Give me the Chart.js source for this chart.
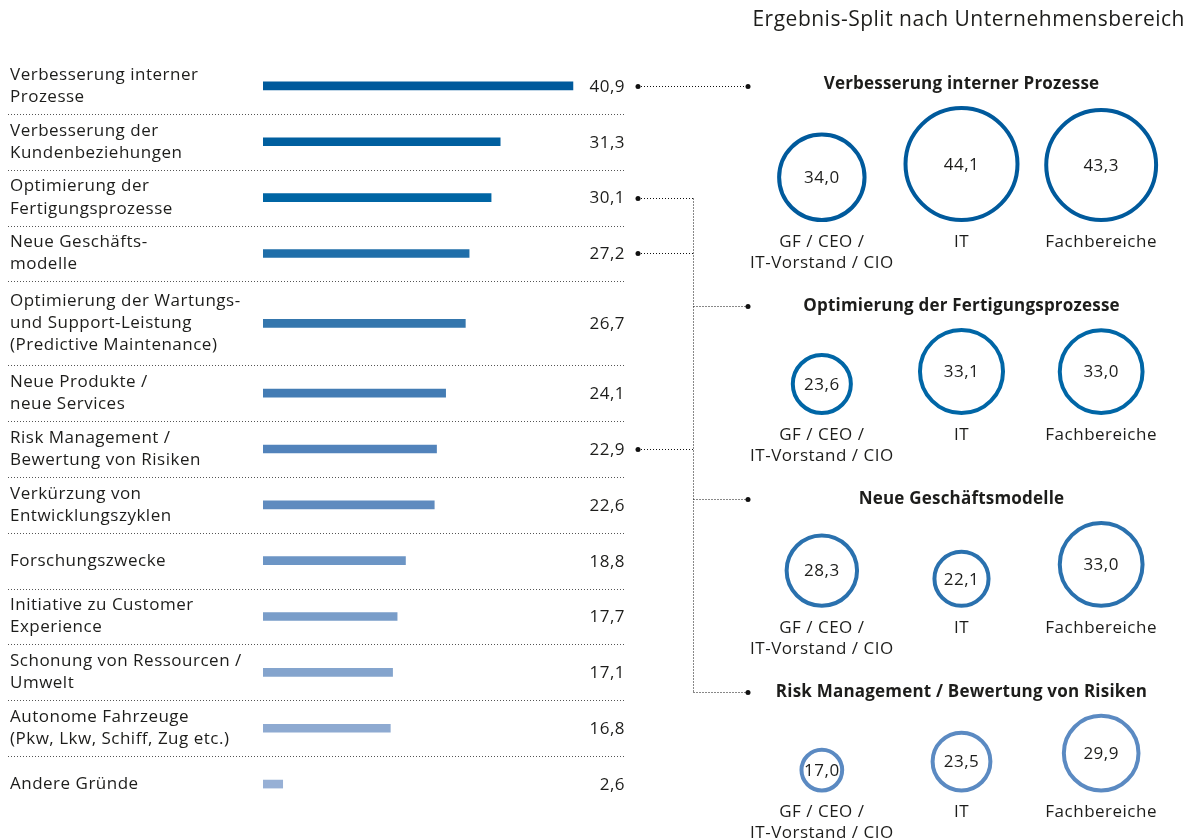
<!DOCTYPE html>
<html lang="de">
<head>
<meta charset="utf-8">
<title>Ergebnis-Split nach Unternehmensbereich</title>
<script src="https://cdn.jsdelivr.net/npm/chart.js@4.4.0/dist/chart.umd.min.js"></script>
<style>
  html, body { margin: 0; padding: 0; background: #fff; }
  #wrap { position: relative; width: 1191px; height: 838px; overflow: hidden; }
  #bars { position: absolute; left: 0; top: 0; }
  #split { position: absolute; left: 630px; top: 0; }
</style>
</head>
<body>
<div id="wrap">
  <canvas id="bars" width="630" height="838"></canvas>
  <canvas id="split" width="561" height="838"></canvas>
</div>
<script>
// Gründe (Zeilen links), mehrzeilig umbrochen
const reasons = [
  ['Verbesserung interner', 'Prozesse'],
  ['Verbesserung der', 'Kundenbeziehungen'],
  ['Optimierung der', 'Fertigungsprozesse'],
  ['Neue Geschäfts-', 'modelle'],
  ['Optimierung der Wartungs-', 'und Support-Leistung', '(Predictive Maintenance)'],
  ['Neue Produkte /', 'neue Services'],
  ['Risk Management /', 'Bewertung von Risiken'],
  ['Verkürzung von', 'Entwicklungszyklen'],
  ['Forschungszwecke'],
  ['Initiative zu Customer', 'Experience'],
  ['Schonung von Ressourcen /', 'Umwelt'],
  ['Autonome Fahrzeuge', '(Pkw, Lkw, Schiff, Zug etc.)'],
  ['Andere Gründe']
];
const shares = [40.9, 31.3, 30.1, 27.2, 26.7, 24.1, 22.9, 22.6, 18.8, 17.7, 17.1, 16.8, 2.6];
const barColors = ['#005a9c', '#005f9f', '#0065a4', '#1f6ea9', '#3476ad', '#437cb4', '#5283bb',
                   '#5f8bbf', '#6c95c5', '#799dc9', '#84a4cd', '#8eaad1', '#97b0d5'];

// Split nach Unternehmensbereich
const departments = [['GF / CEO /', 'IT-Vorstand / CIO'], ['IT'], ['Fachbereiche']];
const splitTopics = ['Verbesserung interner Prozesse', 'Optimierung der Fertigungsprozesse',
                     'Neue Geschäftsmodelle', 'Risk Management / Bewertung von Risiken'];
const splitRows = [0, 2, 3, 6];   // Zeile links, zu der das Thema gehört
const splitGf = [34.0, 23.6, 28.3, 17.0];
const splitIt = [44.1, 33.1, 22.1, 23.5];
const splitFach = [43.3, 33.0, 33.0, 29.9];
const splitColors = ['#005a9c', '#0066a6', '#2a71ae', '#5b8ac2'];

const FONT = '"Open Sans", Lato, sans-serif';
const INK = '#1d1d1b';
const SPACING = '0.5px';
const comma = v => v.toFixed(1).replace('.', ',');

// Zeilenhöhe nach Anzahl der Textzeilen (mind. 2 Einheiten)
const rowUnits = reasons.map(l => Math.max(2, l.length));
const rowCenters = [];
const rowBounds = [];
let acc = 0;
rowUnits.forEach((u, i) => {
  rowCenters.push(acc + u / 2);
  acc += u;
  if (i < rowUnits.length - 1) rowBounds.push(acc);
});
const totalUnits = acc;

function dotted(ctx, pts, color) {
  ctx.save();
  ctx.strokeStyle = color;
  ctx.lineWidth = 1;
  ctx.setLineDash([1, 2]);
  ctx.beginPath();
  ctx.moveTo(pts[0][0], pts[0][1]);
  for (let i = 1; i < pts.length; i++) ctx.lineTo(pts[i][0], pts[i][1]);
  ctx.stroke();
  ctx.restore();
}

function dot(ctx, x, y) {
  ctx.beginPath();
  ctx.arc(x, y, 2.5, 0, Math.PI * 2);
  ctx.fillStyle = '#111';
  ctx.fill();
}

// etwas weitere Laufweite für alle Beschriftungen
const letterSpacing = {
  id: 'letterSpacing',
  beforeDraw(chart) { chart.ctx.letterSpacing = SPACING; }
};

const rowDecor = {
  id: 'rowDecor',
  afterDraw(chart) {
    const ctx = chart.ctx;
    const ys = chart.scales.y;
    rowBounds.forEach(b => {
      const y = Math.round(ys.getPixelForValue(b)) + 0.5;
      dotted(ctx, [[8, y], [626, y]], '#555');
    });
    const meta = chart.getDatasetMeta(0);
    ctx.save();
    ctx.font = '17px ' + FONT;
    ctx.fillStyle = INK;
    ctx.textAlign = 'right';
    ctx.textBaseline = 'middle';
    meta.data.forEach((bar, i) => ctx.fillText(comma(shares[i]), 625, bar.y + 1));
    ctx.restore();
  }
};

const barChart = new Chart(document.getElementById('bars'), {
  type: 'bar',
  data: {
    datasets: [{
      data: shares.map((v, i) => ({ x: v, y: rowCenters[i] })),
      backgroundColor: barColors,
      barThickness: 8,
      borderWidth: 0
    }]
  },
  options: {
    indexAxis: 'y',
    responsive: false,
    animation: false,
    layout: { autoPadding: false, padding: { left: 10, right: 26, top: 58, bottom: 26 } },
    plugins: { legend: { display: false }, tooltip: { enabled: false } },
    scales: {
      x: { type: 'linear', min: 0, max: 45, display: false },
      y: {
        type: 'linear',
        reverse: true,
        offset: false,
        min: 0,
        max: totalUnits,
        grid: { display: false, drawTicks: false },
        border: { display: false },
        afterBuildTicks: s => { s.ticks = rowCenters.map(v => ({ value: v })); },
        afterFit: s => { s.width = 253; s.paddingTop = 0; s.paddingBottom = 0; },
        ticks: {
          autoSkip: false,
          crossAlign: 'far',
          padding: 0,
          color: INK,
          font: { family: FONT, size: 17, lineHeight: 1.3 },
          callback: (v, i) => reasons[i]
        }
      }
    }
  },
  plugins: [letterSpacing, rowDecor]
});

// Kreise: Außendurchmesser proportional zum Wert
const K = 1.315, BW = 4;
const groups = splitTopics.map((t, g) => [splitGf[g], splitIt[g], splitFach[g]]);
const titleY = [];
const baseY = [];
let yCursor = 84;
groups.forEach(vals => {
  titleY.push(yCursor);
  const base = yCursor + 22 + 2 * K * Math.max(...vals);
  baseY.push(base);
  yCursor = base + 84;
});

const OFF = 630;   // linker Rand dieser Zeichenfläche auf der Seite

const splitDecor = {
  id: 'splitDecor',
  afterDraw(chart) {
    const ctx = chart.ctx;
    ctx.save();
    ctx.fillStyle = INK;
    ctx.textBaseline = 'middle';

    ctx.font = '21px ' + FONT;
    ctx.textAlign = 'right';
    ctx.fillText('Ergebnis-Split nach Unternehmensbereich', 1185 - OFF, 20);

    const xs = chart.scales.x;
    const midX = xs.getPixelForValue(1);
    groups.forEach((vals, g) => {
      ctx.textAlign = 'center';
      ctx.font = 'bold 17px ' + FONT;
      ctx.letterSpacing = '0.2px';
      ctx.fillText(splitTopics[g], midX, titleY[g]);
      ctx.letterSpacing = SPACING;
      const meta = chart.getDatasetMeta(g);
      meta.data.forEach((pt, i) => {
        ctx.font = '17px ' + FONT;
        ctx.fillText(comma(vals[i]), pt.x, pt.y + 1);
        departments[i].forEach((line, k) => ctx.fillText(line, pt.x, baseY[g] + 20 + k * 21));
      });
    });
    ctx.restore();

    // Verbindungen von den Werten links zu den Themen
    const barMeta = barChart.getDatasetMeta(0);
    const srcX = 638 - OFF, dstX = 748 - OFF, trunkX = 693.5 - OFF;
    const srcY = splitRows.map(r => Math.round(barMeta.data[r].y) + 0.5);
    dotted(ctx, [[srcX, srcY[0]], [dstX, srcY[0]]], '#111');
    dot(ctx, srcX, srcY[0]);
    dot(ctx, dstX, srcY[0]);
    const top = Math.min(...srcY.slice(1));
    const bottom = Math.round(titleY[titleY.length - 1]) + 0.5;
    dotted(ctx, [[trunkX, top], [trunkX, bottom]], '#111');
    for (let g = 1; g < groups.length; g++) {
      const ty = Math.round(titleY[g]) + 0.5;
      dotted(ctx, [[srcX, srcY[g]], [trunkX, srcY[g]]], '#111');
      dotted(ctx, [[trunkX, ty], [dstX, ty]], '#111');
      dot(ctx, srcX, srcY[g]);
      dot(ctx, dstX, ty);
    }
  }
};

new Chart(document.getElementById('split'), {
  type: 'bubble',
  data: {
    datasets: groups.map((vals, g) => ({
      data: vals.map((v, i) => ({ x: i, y: baseY[g] - K * v, r: K * v - BW / 2 })),
      backgroundColor: 'rgba(255,255,255,0)',
      borderColor: splitColors[g],
      borderWidth: BW,
      clip: false
    }))
  },
  options: {
    responsive: false,
    animation: false,
    layout: { autoPadding: false, padding: { left: 122, right: 20, top: 0, bottom: 0 } },
    plugins: { legend: { display: false }, tooltip: { enabled: false } },
    scales: {
      x: { type: 'linear', min: -0.5, max: 2.5, display: false },
      y: { type: 'linear', min: 0, max: 838, reverse: true, display: false }
    }
  },
  plugins: [letterSpacing, splitDecor]
});
</script>
</body>
</html>
